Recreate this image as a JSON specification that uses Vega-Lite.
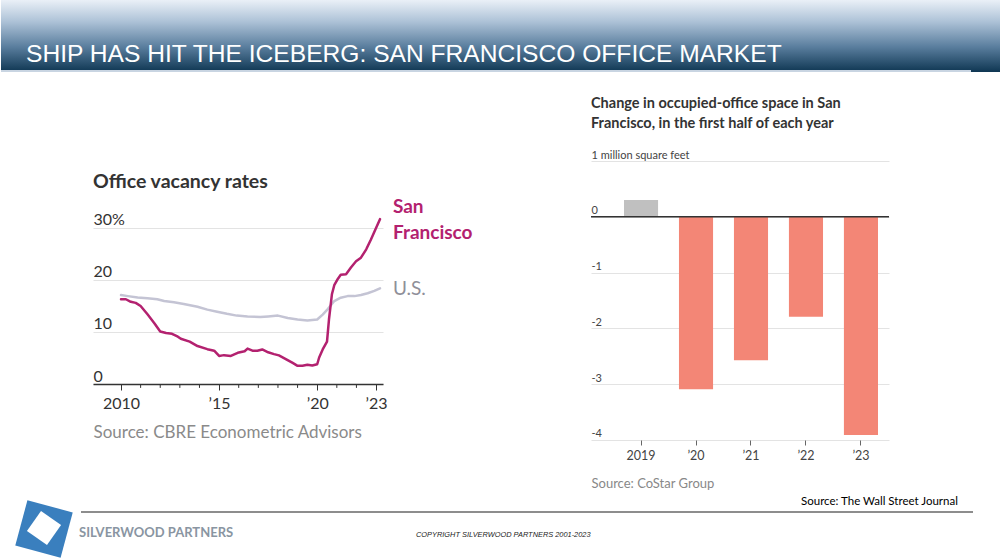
{
  "$schema": "https://vega.github.io/schema/vega-lite/v6.json",
  "padding": 0,
  "background": "white",
  "bounds": "full",
  "spacing": 0,
  "config": {"view": {"stroke": null}, "font": "Lato"},
  "vconcat": [
    {
      "width": 1000, "height": 72,
      "data": {"values": [{}]},
      "layer": [
        {
          "mark": {"type": "rect", "color": {"gradient": "linear", "x1": 0, "y1": 0, "x2": 0, "y2": 1,
            "stops": [{"offset": 0, "color": "#eaf0f7"}, {"offset": 0.3, "color": "#adc2d7"}, {"offset": 0.65, "color": "#5a7e9e"}, {"offset": 1, "color": "#0e3652"}]}},
          "encoding": {
            "x": {"datum": 0, "type": "quantitative", "scale": {"domain": [0, 1], "nice": false, "zero": false}, "axis": null},
            "x2": {"datum": 1},
            "y": {"datum": 0, "type": "quantitative", "scale": {"domain": [0, 1], "nice": false, "zero": false}, "axis": null},
            "y2": {"datum": 1}
          }
        },
        {
          "mark": {"type": "rule", "color": "#c9d5e2", "strokeWidth": 2},
          "encoding": {"x": {"datum": 0, "type": "quantitative"}, "x2": {"datum": 0.97}, "y": {"datum": 0.014, "type": "quantitative"}}
        },
        {
          "mark": {"type": "text", "text": "SHIP HAS HIT THE ICEBERG: SAN FRANCISCO OFFICE MARKET", "align": "left", "baseline": "alphabetic", "color": "white", "fontSize": 24.6, "font": "Liberation Sans"},
          "encoding": {"x": {"datum": 0.025, "type": "quantitative"}, "y": {"datum": 0.139, "type": "quantitative"}}
        }
      ]
    },
    {"width": 1000, "height": 8, "data": {"values": [{}]}, "mark": {"type": "point", "opacity": 0, "size": 1}},
    {
      "hconcat": [
        {"width": 92, "height": 1, "data": {"values": [{}]}, "mark": {"type": "point", "opacity": 0, "size": 1}},
        {
          "width": 290, "height": 304,
          "title": {"text": "Office vacancy rates", "anchor": "start", "frame": "group", "fontSize": 19.5, "fontWeight": "bold", "color": "#333333", "offset": -127, "baseline": "alphabetic", "font": "Lato"},
          "data": {"values": [
            {"series": "U.S.", "year": 2010.0, "rate": 17.1},
            {"series": "U.S.", "year": 2010.35, "rate": 16.9},
            {"series": "U.S.", "year": 2010.85, "rate": 16.65},
            {"series": "U.S.", "year": 2011.35, "rate": 16.5},
            {"series": "U.S.", "year": 2011.85, "rate": 16.3},
            {"series": "U.S.", "year": 2012.2, "rate": 15.95},
            {"series": "U.S.", "year": 2012.7, "rate": 15.7},
            {"series": "U.S.", "year": 2013.2, "rate": 15.4},
            {"series": "U.S.", "year": 2013.9, "rate": 14.85},
            {"series": "U.S.", "year": 2014.4, "rate": 14.3},
            {"series": "U.S.", "year": 2014.9, "rate": 13.9},
            {"series": "U.S.", "year": 2015.4, "rate": 13.5},
            {"series": "U.S.", "year": 2015.9, "rate": 13.15},
            {"series": "U.S.", "year": 2016.45, "rate": 13.0},
            {"series": "U.S.", "year": 2017.1, "rate": 12.9},
            {"series": "U.S.", "year": 2017.5, "rate": 13.0},
            {"series": "U.S.", "year": 2018.0, "rate": 13.15},
            {"series": "U.S.", "year": 2018.5, "rate": 12.7},
            {"series": "U.S.", "year": 2019.0, "rate": 12.4},
            {"series": "U.S.", "year": 2019.5, "rate": 12.2},
            {"series": "U.S.", "year": 2020.0, "rate": 12.4},
            {"series": "U.S.", "year": 2020.28, "rate": 13.35},
            {"series": "U.S.", "year": 2020.55, "rate": 14.45},
            {"series": "U.S.", "year": 2020.87, "rate": 15.95},
            {"series": "U.S.", "year": 2021.2, "rate": 16.6},
            {"series": "U.S.", "year": 2021.55, "rate": 16.9},
            {"series": "U.S.", "year": 2021.9, "rate": 16.9},
            {"series": "U.S.", "year": 2022.23, "rate": 17.1},
            {"series": "U.S.", "year": 2022.57, "rate": 17.45},
            {"series": "U.S.", "year": 2022.91, "rate": 17.9},
            {"series": "U.S.", "year": 2023.2, "rate": 18.4},
            {"series": "San Francisco", "year": 2010.0, "rate": 16.3},
            {"series": "San Francisco", "year": 2010.25, "rate": 16.3},
            {"series": "San Francisco", "year": 2010.5, "rate": 15.8},
            {"series": "San Francisco", "year": 2010.75, "rate": 15.6},
            {"series": "San Francisco", "year": 2011.0, "rate": 15.0},
            {"series": "San Francisco", "year": 2011.35, "rate": 13.4},
            {"series": "San Francisco", "year": 2011.7, "rate": 11.7},
            {"series": "San Francisco", "year": 2012.0, "rate": 10.1},
            {"series": "San Francisco", "year": 2012.3, "rate": 9.8},
            {"series": "San Francisco", "year": 2012.6, "rate": 9.65},
            {"series": "San Francisco", "year": 2012.9, "rate": 9.1},
            {"series": "San Francisco", "year": 2013.05, "rate": 8.7},
            {"series": "San Francisco", "year": 2013.5, "rate": 8.15},
            {"series": "San Francisco", "year": 2013.9, "rate": 7.3},
            {"series": "San Francisco", "year": 2014.4, "rate": 6.7},
            {"series": "San Francisco", "year": 2014.75, "rate": 6.4},
            {"series": "San Francisco", "year": 2015.0, "rate": 5.4},
            {"series": "San Francisco", "year": 2015.25, "rate": 5.55},
            {"series": "San Francisco", "year": 2015.6, "rate": 5.4},
            {"series": "San Francisco", "year": 2015.95, "rate": 6.0},
            {"series": "San Francisco", "year": 2016.3, "rate": 6.3},
            {"series": "San Francisco", "year": 2016.45, "rate": 6.8},
            {"series": "San Francisco", "year": 2016.7, "rate": 6.4},
            {"series": "San Francisco", "year": 2016.95, "rate": 6.4},
            {"series": "San Francisco", "year": 2017.2, "rate": 6.65},
            {"series": "San Francisco", "year": 2017.5, "rate": 6.1},
            {"series": "San Francisco", "year": 2017.8, "rate": 5.75},
            {"series": "San Francisco", "year": 2018.05, "rate": 5.5},
            {"series": "San Francisco", "year": 2018.4, "rate": 4.8},
            {"series": "San Francisco", "year": 2018.75, "rate": 4.05},
            {"series": "San Francisco", "year": 2019.0, "rate": 3.5},
            {"series": "San Francisco", "year": 2019.25, "rate": 3.5},
            {"series": "San Francisco", "year": 2019.5, "rate": 3.7},
            {"series": "San Francisco", "year": 2019.75, "rate": 3.55},
            {"series": "San Francisco", "year": 2020.0, "rate": 3.8},
            {"series": "San Francisco", "year": 2020.1, "rate": 5.1},
            {"series": "San Francisco", "year": 2020.28, "rate": 6.65},
            {"series": "San Francisco", "year": 2020.5, "rate": 8.15},
            {"series": "San Francisco", "year": 2020.6, "rate": 12.4},
            {"series": "San Francisco", "year": 2020.75, "rate": 17.25},
            {"series": "San Francisco", "year": 2020.87, "rate": 19.0},
            {"series": "San Francisco", "year": 2021.05, "rate": 20.2},
            {"series": "San Francisco", "year": 2021.2, "rate": 21.0},
            {"series": "San Francisco", "year": 2021.47, "rate": 21.1},
            {"series": "San Francisco", "year": 2021.72, "rate": 22.4},
            {"series": "San Francisco", "year": 2021.98, "rate": 23.6},
            {"series": "San Francisco", "year": 2022.23, "rate": 24.3},
            {"series": "San Francisco", "year": 2022.5, "rate": 25.9},
            {"series": "San Francisco", "year": 2022.74, "rate": 27.8},
            {"series": "San Francisco", "year": 2023.0, "rate": 30.0},
            {"series": "San Francisco", "year": 2023.2, "rate": 31.7}
          ]},
          "layer": [
            {
              "data": {"values": [{"yr": 2011}, {"yr": 2012}, {"yr": 2013}, {"yr": 2014}, {"yr": 2016}, {"yr": 2017}, {"yr": 2018}, {"yr": 2019}, {"yr": 2021}, {"yr": 2022}]},
              "mark": {"type": "rule", "color": "#333333", "strokeWidth": 1},
              "encoding": {
                "x": {"field": "yr", "type": "quantitative"},
                "y": {"datum": 0, "type": "quantitative"},
                "y2": {"datum": -0.75}
              }
            },
            {
              "mark": {"type": "line", "strokeWidth": 2.5, "strokeJoin": "round", "strokeCap": "round"},
              "encoding": {
                "x": {"field": "year", "type": "quantitative",
                  "scale": {"domain": [2008.573, 2023.354], "nice": false, "zero": false},
                  "axis": {
                    "values": [2010, 2015, 2020, 2023],
                    "labelExpr": "datum.value==2010?'2010':datum.value==2015?'’15':datum.value==2020?'’20':'’23'",
                    "grid": false, "domainColor": "#333333", "domainWidth": 1.5,
                    "tickColor": "#333333", "tickWidth": 1, "tickSize": 6,
                    "labelFontSize": 16, "labelColor": "#333333", "labelPadding": 5, "labelFont": "Lato",
                    "labelFlush": false, "labelOverlap": false,
                    "title": "Source: CBRE Econometric Advisors", "titleAnchor": "start", "titleAlign": "left",
                    "titleX": 0, "titleY": 53, "titleBaseline": "alphabetic", "titleFontSize": 17,
                    "titleFontWeight": "normal", "titleColor": "#8a8a8a", "titleFont": "Lato"
                  }},
                "y": {"field": "rate", "type": "quantitative",
                  "scale": {"domain": [0, 58.46], "nice": false},
                  "axis": {
                    "values": [0, 10, 20, 30],
                    "labelExpr": "datum.value==30?'30%':datum.label",
                    "domain": false, "ticks": false, "tickSize": 0,
                    "labelAlign": "left", "labelBaseline": "alphabetic", "labelPadding": 0, "labelOffset": -3,
                    "labelFontSize": 16, "labelColor": "#333333", "labelFont": "Lato",
                    "grid": true, "gridColor": "#e3e3e3", "title": null
                  }},
                "color": {"field": "series", "type": "nominal",
                  "scale": {"domain": ["U.S.", "San Francisco"], "range": ["#c4c4d4", "#b3216f"]},
                  "legend": null}
              }
            },
            {
              "data": {"values": [{}]},
              "mark": {"type": "text", "text": ["San", "Francisco"], "align": "left", "baseline": "alphabetic", "lineHeight": 26, "fontSize": 19, "fontWeight": "bold", "color": "#b3216f", "font": "Lato"},
              "encoding": {"x": {"datum": 2023.86, "type": "quantitative"}, "y": {"datum": 32.9, "type": "quantitative"}}
            },
            {
              "data": {"values": [{}]},
              "mark": {"type": "text", "text": "U.S.", "align": "left", "baseline": "alphabetic", "fontSize": 19, "color": "#8f8f99", "font": "Lato"},
              "encoding": {"x": {"datum": 2023.86, "type": "quantitative"}, "y": {"datum": 17.2, "type": "quantitative"}}
            }
          ]
        },
        {"width": 208, "height": 1, "data": {"values": [{}]}, "mark": {"type": "point", "opacity": 0, "size": 1}},
        {
          "width": 298, "height": 412,
          "title": {"text": ["Change in occupied-office space in San", "Francisco, in the first half of each year"], "anchor": "start", "frame": "group", "fontSize": 14.5, "fontWeight": "bold", "color": "#333333", "lineHeight": 20, "offset": -62, "baseline": "alphabetic", "font": "Lato"},
          "data": {"values": [
            {"yr": "2019", "change": 0.3},
            {"yr": "’20", "change": -3.09},
            {"yr": "’21", "change": -2.57},
            {"yr": "’22", "change": -1.79},
            {"yr": "’23", "change": -3.91}
          ]},
          "layer": [
            {
              "mark": {"type": "bar"},
              "encoding": {
                "x": {"field": "yr", "type": "nominal", "sort": null,
                  "scale": {"paddingInner": 0.38, "paddingOuter": 0.4, "align": 0.75},
                  "axis": {
                    "offset": -52,
                    "labelAngle": 0, "domain": false, "tickColor": "#666666", "tickSize": 5,
                    "labelFontSize": 12.5, "labelColor": "#444444", "labelPadding": 4, "labelFont": "Lato",
                    "title": "Source: CoStar Group", "titleAnchor": "start", "titleAlign": "left",
                    "titleX": 0, "titleY": 47, "titleBaseline": "alphabetic", "titleFontSize": 13,
                    "titleFontWeight": "normal", "titleColor": "#888888", "titleFont": "Lato"
                  }},
                "y": {"field": "change", "type": "quantitative",
                  "scale": {"domain": [-4.932, 2.452], "nice": false},
                  "axis": {
                    "values": [-4, -3, -2, -1, 0, 1],
                    "labelExpr": "datum.value==1?'1 million square feet':(datum.value<0?'-'+abs(datum.value):'0')",
                    "domain": false, "ticks": false, "tickSize": 0,
                    "labelAlign": "left", "labelBaseline": "alphabetic", "labelPadding": 0, "labelOffset": -3,
                    "labelFontSize": 11, "labelColor": "#444444", "labelFont": "Lato",
                    "grid": true, "gridColor": "#e3e3e3", "title": null
                  }},
                "color": {"condition": {"test": "datum.yr=='2019'", "value": "#c0c0c0"}, "value": "#f38676"}
              }
            },
            {
              "data": {"values": [{}]},
              "mark": {"type": "rule", "color": "#333333", "strokeWidth": 1.5},
              "encoding": {"y": {"datum": 0, "type": "quantitative"}}
            }
          ]
        }
      ],
      "spacing": 0,
      "bounds": "flush"
    },
    {
      "width": 1000, "height": 68,
      "data": {"values": [{}]},
      "layer": [
        {
          "mark": {"type": "rule", "color": "#8d8d8d", "strokeWidth": 2},
          "encoding": {
            "x": {"datum": 80, "type": "quantitative", "scale": {"domain": [0, 1000], "nice": false, "zero": false}, "axis": null},
            "x2": {"datum": 972},
            "y": {"datum": 512, "type": "quantitative", "scale": {"domain": [492, 560], "nice": false, "zero": false, "reverse": true}, "axis": null}
          }
        },
        {
          "mark": {"type": "text", "text": "Source: The Wall Street Journal", "align": "left", "baseline": "alphabetic", "fontSize": 11.5, "color": "#000000", "font": "Lato"},
          "encoding": {"x": {"datum": 800, "type": "quantitative"}, "y": {"datum": 505, "type": "quantitative"}}
        },
        {
          "mark": {"type": "text", "text": "SILVERWOOD PARTNERS", "align": "left", "baseline": "alphabetic", "fontSize": 13, "fontWeight": "bold", "color": "#8995a2", "font": "Lato"},
          "encoding": {"x": {"datum": 78, "type": "quantitative"}, "y": {"datum": 537, "type": "quantitative"}}
        },
        {
          "mark": {"type": "text", "text": "COPYRIGHT SILVERWOOD PARTNERS 2001-2023", "align": "left", "baseline": "alphabetic", "fontSize": 7.4, "fontStyle": "italic", "color": "#222222", "font": "Liberation Sans"},
          "encoding": {"x": {"datum": 415, "type": "quantitative"}, "y": {"datum": 537, "type": "quantitative"}}
        },
        {
          "mark": {"type": "point", "shape": "square", "filled": true, "size": 2200, "angle": 15, "color": "#3a7fbe", "opacity": 1},
          "encoding": {"x": {"datum": 43, "type": "quantitative"}, "y": {"datum": 529, "type": "quantitative"}}
        },
        {
          "mark": {"type": "point", "shape": "square", "filled": true, "size": 600, "angle": 35, "color": "#ffffff", "opacity": 1},
          "encoding": {"x": {"datum": 43, "type": "quantitative"}, "y": {"datum": 528, "type": "quantitative"}}
        }
      ]
    }
  ]
}
